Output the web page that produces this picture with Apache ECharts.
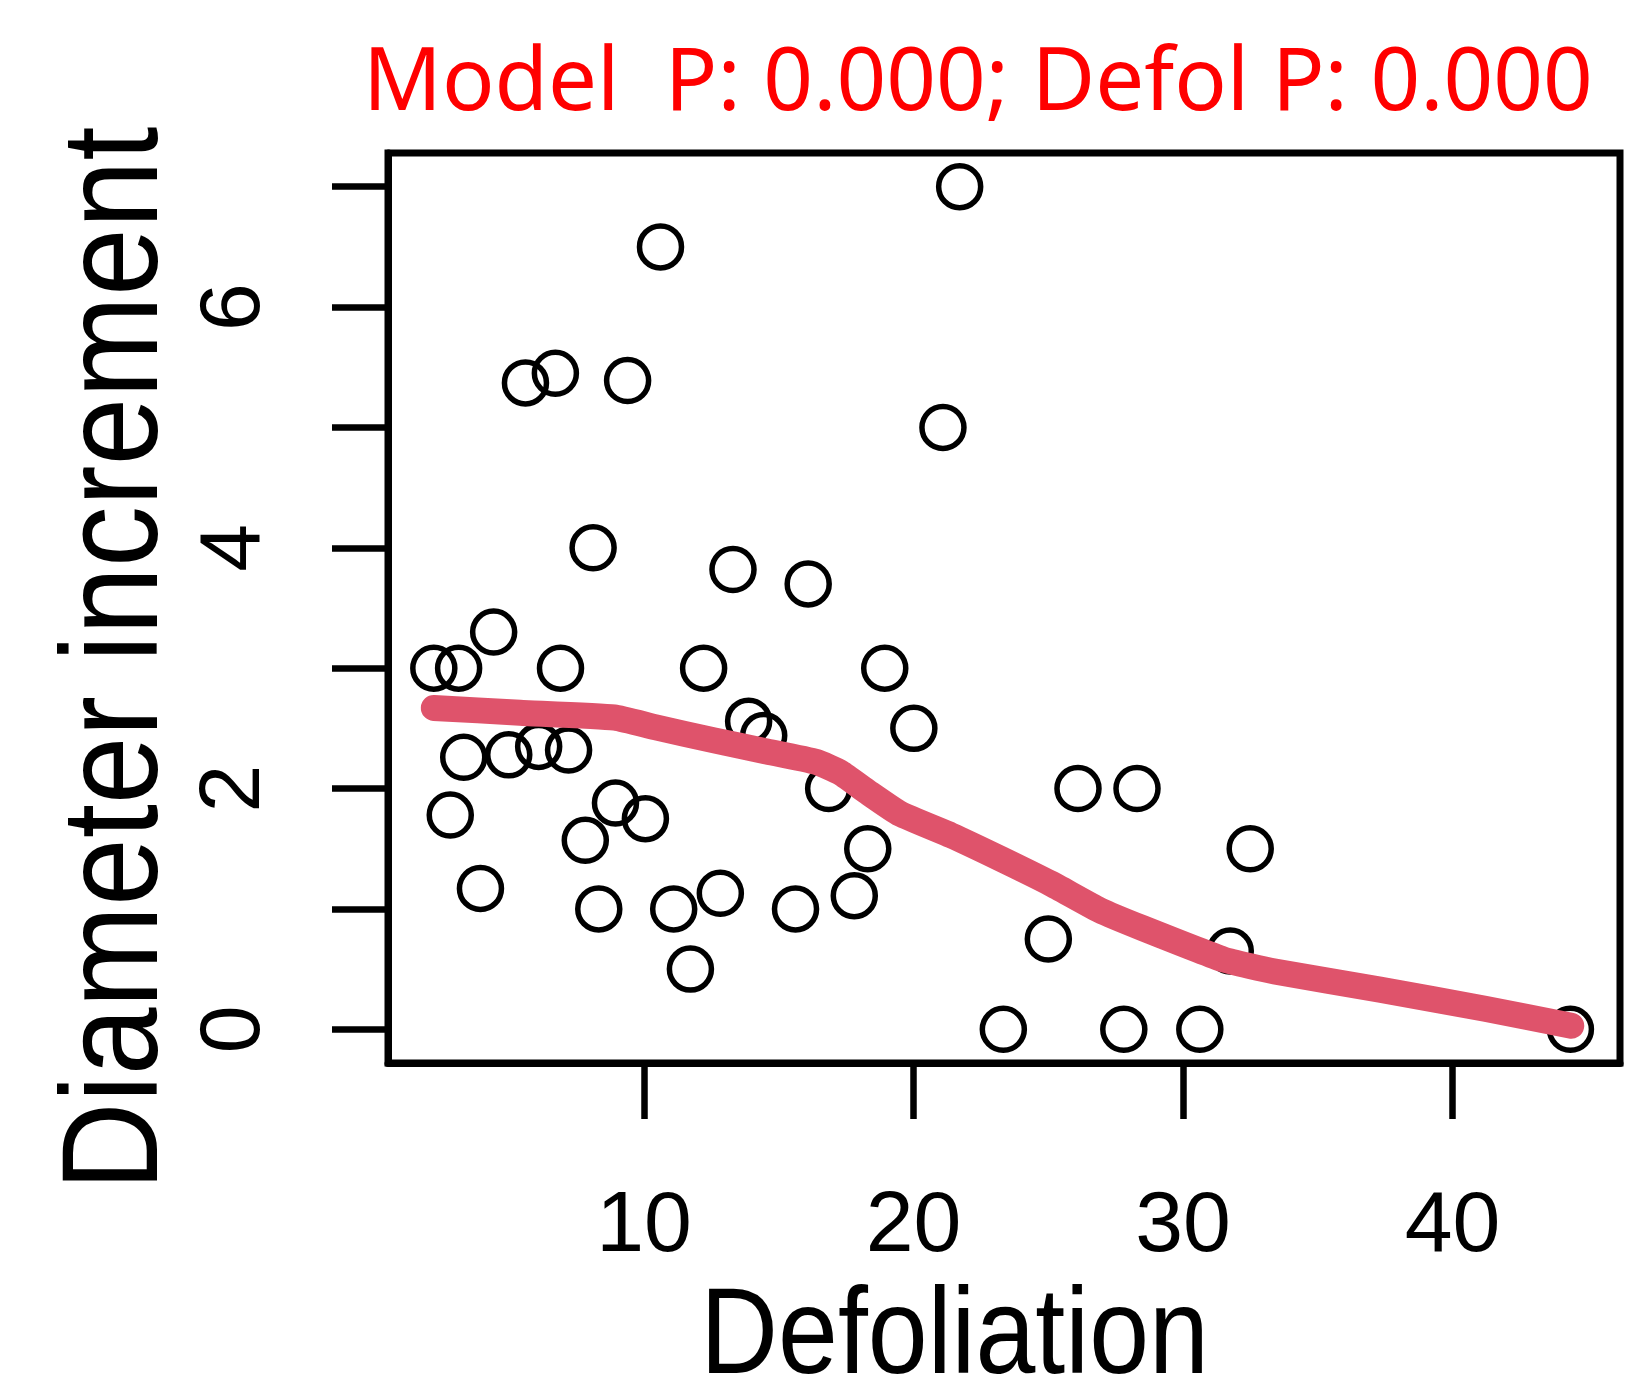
<!DOCTYPE html>
<html>
<head>
<meta charset="utf-8">
<title>Diameter increment vs Defoliation</title>
<script src="https://cdn.jsdelivr.net/npm/echarts@6/dist/echarts.min.js"></script>
<style>
  html, body { margin: 0; padding: 0; background: #fff; }
  #chart { width: 1627px; height: 1385px; }
</style>
</head>
<body>
<div id="chart"></div>
<script>
// 散点数据 (Defoliation, Diameter increment)
var defolValues = [2.20, 3.12, 2.81, 3.31, 3.93, 4.42, 4.98, 5.60, 6.09, 6.71,
  6.90, 7.20, 7.82, 8.11, 8.32, 8.94, 9.39, 10.05, 10.61, 11.10,
  11.72, 12.21, 12.83, 13.30, 13.88, 14.44, 15.62, 16.09, 16.85, 17.80,
  18.30, 18.93, 20.01, 21.09, 21.71, 23.33, 25.00, 26.10, 27.80, 28.29,
  30.62, 31.75, 32.49, 44.37];
var incrementValues = [3.0, 3.0, 1.78, 2.26, 1.17, 3.30, 2.28, 5.37, 2.35, 5.45,
  3.0, 2.32, 1.57, 4.0, 1.0, 1.88, 5.39, 1.75, 6.50, 1.0,
  0.5, 3.0, 1.13, 3.82, 2.56, 2.44, 1.0, 3.70, 2.0, 1.11,
  1.5, 3.0, 2.5, 5.0, 7.0, 0.0, 0.75, 2.0, 0.0, 2.0,
  0.0, 0.65, 1.5, 0.0];

// 平滑曲线 (loess)
var smoothX = [2.2, 5.4, 8.9, 10.4, 12.6, 14.5, 16.4, 17.3, 18.3, 19.5,
  21.4, 23.2, 25.1, 26.9, 28.5, 31.5, 33.4, 37.3, 41.2, 44.4];
var smoothY = [2.67, 2.63, 2.59, 2.51, 2.40, 2.31, 2.22, 2.13, 1.97, 1.79,
  1.61, 1.42, 1.21, 0.99, 0.84, 0.58, 0.48, 0.33, 0.17, 0.03];

// 刻度
var xTicks = [10, 20, 30, 40];
var yTicks = [0, 1, 2, 3, 4, 5, 6, 7];
var yLabels = [0, 2, 4, 6];

var titleText = 'Model  P: 0.000; Defol P: 0.000';
var xName = 'Defoliation';
var yName = 'Diameter increment';

var chart = echarts.init(document.getElementById('chart'));

var points = defolValues.map(function (x, i) { return [x, incrementValues[i]]; });
var curve = smoothX.map(function (x, i) { return [x, smoothY[i]]; });

var option = {
  backgroundColor: '#fff',
  animation: false,
  title: {
    text: titleText,
    left: 363,
    top: 42,
    padding: 0,
    textStyle: {
      color: '#ff0000',
      fontSize: 87,
      fontWeight: 'normal',
      fontFamily: 'Noto Sans'
    }
  },
  grid: {
    left: 388,
    right: 7,
    top: 153,
    bottom: 322,
    show: true,
    borderColor: '#000',
    borderWidth: 7,
    backgroundColor: 'transparent'
  },
  xAxis: {
    type: 'value',
    min: 0.5,
    max: 46.21,
    axisLine: { show: true, onZero: false, lineStyle: { color: '#000', width: 7 } },
    axisTick: {
      show: true,
      length: 56,
      customValues: xTicks,
      lineStyle: { color: '#000', width: 6.5 }
    },
    axisLabel: {
      customValues: xTicks,
      margin: 121,
      color: '#000',
      fontSize: 86,
      fontFamily: 'Liberation Sans'
    },
    splitLine: { show: false }
  },
  yAxis: {
    type: 'value',
    min: -0.28,
    max: 7.28,
    axisLine: { show: true, onZero: false, lineStyle: { color: '#000', width: 7 } },
    axisTick: {
      show: true,
      length: 56,
      customValues: yTicks,
      lineStyle: { color: '#000', width: 6.5 }
    },
    axisLabel: {
      customValues: yLabels,
      rotate: 90,
      margin: 110,
      color: '#000',
      fontSize: 86,
      fontFamily: 'Liberation Sans'
    },
    splitLine: { show: false }
  },
  graphic: [
    {
      type: 'text',
      x: 954.6,
      y: 1339,
      scaleX: 0.875,
      style: {
        text: xName,
        fill: '#000',
        fontSize: 123,
        fontFamily: 'Liberation Sans',
        align: 'center',
        verticalAlign: 'middle'
      }
    },
    {
      type: 'text',
      x: 119.5,
      y: 658.5,
      rotation: Math.PI / 2,
      scaleX: 0.89,
      style: {
        text: yName,
        fill: '#000',
        fontSize: 137,
        fontFamily: 'Liberation Sans',
        align: 'center',
        verticalAlign: 'middle'
      }
    }
  ],
  series: [
    {
      name: 'points',
      type: 'scatter',
      data: points,
      symbol: 'circle',
      symbolSize: 42,
      itemStyle: {
        color: 'rgba(0,0,0,0)',
        borderColor: '#000',
        borderWidth: 5.5,
        opacity: 1
      }
    },
    {
      name: 'loess',
      type: 'line',
      data: curve,
      showSymbol: false,
      smooth: 0.15,
      lineStyle: {
        color: '#DF536B',
        width: 26,
        cap: 'round',
        join: 'round'
      }
    }
  ]
};

chart.setOption(option);
</script>
</body>
</html>
